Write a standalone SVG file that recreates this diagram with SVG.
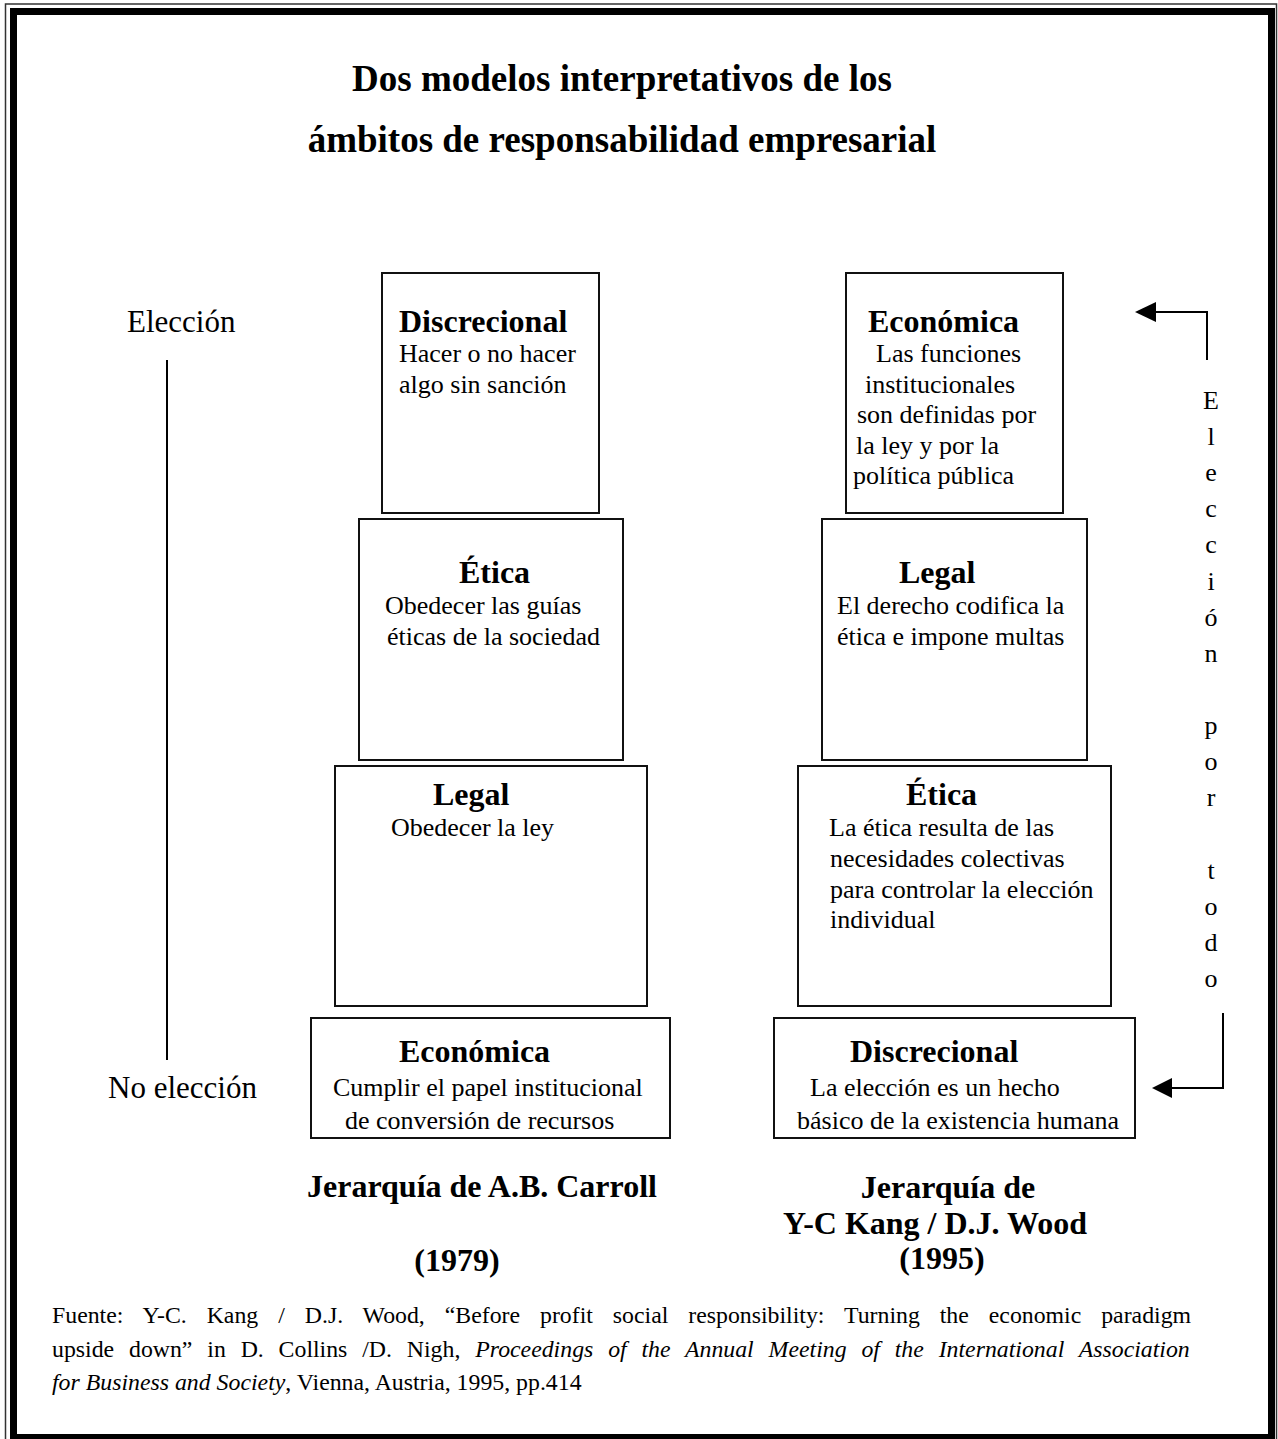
<svg xmlns="http://www.w3.org/2000/svg" width="1278" height="1439" viewBox="0 0 1278 1439">
  <style>
    .box { fill: #ffffff; stroke: #111111; stroke-width: 2; }
    .line { fill: none; stroke: #000000; stroke-width: 2; }
    .head { font-family: "Liberation Serif", "Times New Roman", serif; font-weight: bold; font-size: 32px; fill: #000; }
    .body { font-family: "Liberation Serif", "Times New Roman", serif; font-size: 26px; fill: #000; }
    .side { font-family: "Liberation Serif", "Times New Roman", serif; font-size: 31px; fill: #000; }
    .title { font-family: "Liberation Serif", "Times New Roman", serif; font-weight: bold; font-size: 37px; fill: #000; text-anchor: middle; }
    .caption { font-family: "Liberation Serif", "Times New Roman", serif; font-weight: bold; font-size: 32px; fill: #000; text-anchor: middle; }
    .vert { font-family: "Liberation Serif", "Times New Roman", serif; font-size: 26px; fill: #000; text-anchor: middle; }
    .note { font-family: "Liberation Serif", "Times New Roman", serif; font-size: 23.8px; fill: #000; }
    .it { font-style: italic; }
  </style>

  <!-- page frame: thin outer rule plus heavy inner rule -->
  <rect x="0" y="0" width="1278" height="1439" fill="#ffffff"/>
  <rect x="5.5" y="4" width="1271" height="1440" fill="none" stroke="#333" stroke-width="1.5"/>
  <rect x="13.5" y="11.5" width="1258" height="1426" fill="none" stroke="#000" stroke-width="7"/>

  <!-- heading -->
  <g id="title">
    <text class="title" x="622" y="91">Dos modelos interpretativos de los</text>
    <text class="title" x="622" y="152">ámbitos de responsabilidad empresarial</text>
  </g>

  <!-- left scale labels -->
  <g id="scale">
    <text class="side" x="127" y="332">Elección</text>
    <text class="side" x="108" y="1098">No elección</text>
  </g>

  <!-- Carroll hierarchy -->
  <g id="carroll-discrecional">
    <rect class="box" x="382" y="273" width="217" height="240"/>
    <text class="head" x="399" y="332">Discrecional</text>
    <text class="body" x="399" y="362">Hacer o no hacer</text>
    <text class="body" x="399" y="393">algo sin sanción</text>
  </g>
  <g id="carroll-etica">
    <rect class="box" x="359" y="519" width="264" height="241"/>
    <text class="head" x="459" y="583">Ética</text>
    <text class="body" x="385" y="614">Obedecer las guías</text>
    <text class="body" x="387" y="645">éticas de la sociedad</text>
  </g>
  <g id="carroll-legal">
    <rect class="box" x="335" y="766" width="312" height="240"/>
    <text class="head" x="433" y="805">Legal</text>
    <text class="body" x="391" y="836">Obedecer la ley</text>
  </g>
  <g id="carroll-economica">
    <rect class="box" x="311" y="1018" width="359" height="120"/>
    <text class="head" x="399" y="1062">Económica</text>
    <text class="body" x="333" y="1096">Cumplir el papel institucional</text>
    <text class="body" x="345" y="1129">de conversión de recursos</text>
  </g>

  <!-- Kang / Wood hierarchy -->
  <g id="kw-economica">
    <rect class="box" x="846" y="273" width="217" height="240"/>
    <text class="head" x="868" y="332">Económica</text>
    <text class="body" x="876" y="362">Las funciones</text>
    <text class="body" x="865" y="393">institucionales</text>
    <text class="body" x="857" y="423">son definidas por</text>
    <text class="body" x="856" y="454">la ley y por la</text>
    <text class="body" x="853" y="484">política pública</text>
  </g>
  <g id="kw-legal">
    <rect class="box" x="822" y="519" width="265" height="241"/>
    <text class="head" x="899" y="583">Legal</text>
    <text class="body" x="837" y="614">El derecho codifica la</text>
    <text class="body" x="837" y="645">ética e impone multas</text>
  </g>
  <g id="kw-etica">
    <rect class="box" x="798" y="766" width="313" height="240"/>
    <text class="head" x="906" y="805">Ética</text>
    <text class="body" x="829" y="836">La ética resulta de las</text>
    <text class="body" x="830" y="867">necesidades colectivas</text>
    <text class="body" x="830" y="898">para controlar la elección</text>
    <text class="body" x="830" y="928">individual</text>
  </g>
  <g id="kw-discrecional">
    <rect class="box" x="774" y="1018" width="361" height="120"/>
    <text class="head" x="850" y="1062">Discrecional</text>
    <text class="body" x="810" y="1096">La elección es un hecho</text>
    <text class="body" x="797" y="1129">básico de la existencia humana</text>
  </g>

  <!-- vertical label on the right -->
  <g id="eleccion-por-todo">
    <text class="vert" x="1211" y="409">E</text>
    <text class="vert" x="1211" y="445">l</text>
    <text class="vert" x="1211" y="481">e</text>
    <text class="vert" x="1211" y="517">c</text>
    <text class="vert" x="1211" y="553">c</text>
    <text class="vert" x="1211" y="590">i</text>
    <text class="vert" x="1211" y="626">ó</text>
    <text class="vert" x="1211" y="662">n</text>
    <text class="vert" x="1211" y="734">p</text>
    <text class="vert" x="1211" y="770">o</text>
    <text class="vert" x="1211" y="806">r</text>
    <text class="vert" x="1211" y="879">t</text>
    <text class="vert" x="1211" y="915">o</text>
    <text class="vert" x="1211" y="951">d</text>
    <text class="vert" x="1211" y="987">o</text>
  </g>

  <!-- connectors -->
  <g id="connectors">
    <line class="line" x1="167" y1="360" x2="167" y2="1060"/>
    <polyline class="line" points="1207,360 1207,312 1154,312"/>
    <polygon points="1135,312 1156,302 1156,322" fill="#000"/>
    <polyline class="line" points="1223,1013 1223,1088 1170,1088"/>
    <polygon points="1152,1088 1172,1078 1172,1098" fill="#000"/>
  </g>

  <!-- captions under each hierarchy -->
  <g id="caption-carroll">
    <text class="caption" x="482" y="1197">Jerarquía de A.B. Carroll</text>
    <text class="caption" x="457" y="1271">(1979)</text>
  </g>
  <g id="caption-kang-wood">
    <text class="caption" x="948" y="1198">Jerarquía de</text>
    <text class="caption" x="935" y="1234">Y-C Kang / D.J. Wood</text>
    <text class="caption" x="942" y="1269">(1995)</text>
  </g>

  <!-- source note (first two lines justified through word spacing) -->
  <g id="source">
    <text class="note" x="52" y="1323" word-spacing="14">Fuente: Y-C. Kang / D.J. Wood, “Before profit social responsibility: Turning the economic paradigm</text>
    <text class="note" x="52" y="1357" word-spacing="8.9">upside down” in D. Collins /D. Nigh, <tspan class="it">Proceedings of the Annual Meeting of the International Association</tspan></text>
    <text class="note" x="52" y="1390"><tspan class="it">for Business and Society</tspan>, Vienna, Austria, 1995, pp.414</text>
  </g>
</svg>
